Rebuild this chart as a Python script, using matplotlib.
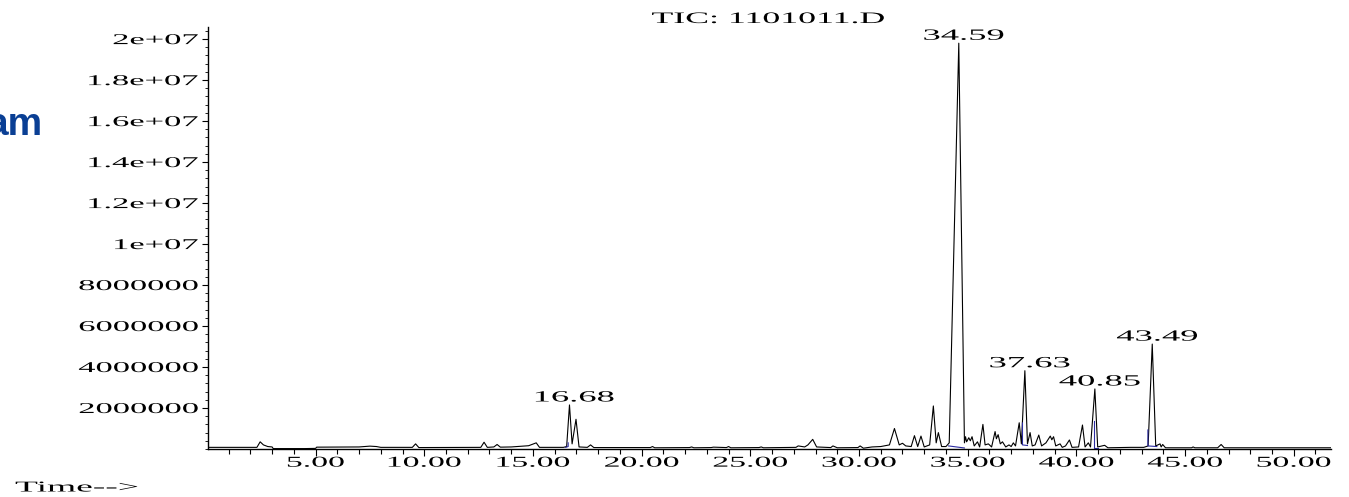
import numpy as np
import matplotlib
matplotlib.use('Agg')
import matplotlib.pyplot as plt
from matplotlib.patheffects import AbstractPathEffect
from matplotlib.transforms import Affine2D

plt.rcParams['font.family'] = ['Liberation Serif', 'DejaVu Serif']

# ---- data (time in min, abundance in millions) ----
trace = [
    (0.05, 0.08), (1.0, 0.08), (2.3, 0.08), (2.45, 0.35), (2.6, 0.2), (2.8, 0.12),
    (3.0, 0.1), (3.05, 0.02), (4.5, 0.02), (5.0, 0.03), (5.05, 0.09), (7.0, 0.1),
    (7.5, 0.14), (7.8, 0.12), (8.0, 0.08), (9.45, 0.08), (9.6, 0.25), (9.75, 0.07),
    (12.6, 0.08), (12.75, 0.33), (12.9, 0.08), (13.2, 0.1), (13.35, 0.22), (13.5, 0.09),
    (14.0, 0.1), (14.8, 0.16), (15.15, 0.3), (15.3, 0.08), (16.4, 0.08), (16.55, 0.12),
    (16.68, 2.15), (16.8, 0.25), (16.98, 1.45), (17.12, 0.1), (17.5, 0.08), (17.65, 0.2),
    (17.8, 0.07), (18.5, 0.07), (20.4, 0.07), (20.5, 0.12), (20.6, 0.06), (22.2, 0.07),
    (22.3, 0.1), (22.4, 0.06), (23.2, 0.07), (23.3, 0.09), (23.9, 0.07), (24.0, 0.12),
    (24.1, 0.06), (25.4, 0.07), (25.5, 0.1), (25.6, 0.06), (27.1, 0.08), (27.2, 0.15),
    (27.5, 0.1), (27.65, 0.2), (27.87, 0.47), (28.05, 0.1), (28.7, 0.07), (28.8, 0.15),
    (29.0, 0.06), (29.95, 0.07), (30.05, 0.15), (30.2, 0.04), (30.6, 0.1), (31.0, 0.12),
    (31.4, 0.2), (31.63, 1.0), (31.85, 0.2), (32.0, 0.28), (32.15, 0.15), (32.4, 0.12),
    (32.55, 0.65), (32.7, 0.12), (32.85, 0.63), (33.0, 0.1), (33.25, 0.2), (33.42, 2.1),
    (33.55, 0.3), (33.65, 0.8), (33.8, 0.12), (34.0, 0.12), (34.15, 0.3), (34.59, 19.8),
    (34.85, 0.3), (34.9, 0.6), (34.95, 0.35), (35.05, 0.55), (35.12, 0.4), (35.2, 0.6),
    (35.3, 0.15), (35.45, 0.35), (35.55, 0.1), (35.7, 1.2), (35.8, 0.2), (35.95, 0.25),
    (36.1, 0.1), (36.26, 0.85), (36.32, 0.5), (36.4, 0.7), (36.5, 0.25), (36.6, 0.35),
    (36.75, 0.1), (36.9, 0.2), (37.0, 0.12), (37.1, 0.3), (37.2, 0.15), (37.37, 1.28),
    (37.47, 0.25), (37.63, 3.82), (37.75, 0.25), (37.87, 0.8), (37.97, 0.15), (38.1, 0.2),
    (38.27, 0.68), (38.4, 0.15), (38.6, 0.3), (38.8, 0.63), (38.87, 0.45), (38.95, 0.6),
    (39.05, 0.15), (39.25, 0.25), (39.35, 0.08), (39.5, 0.15), (39.68, 0.44), (39.8, 0.08),
    (40.1, 0.1), (40.28, 1.17), (40.4, 0.1), (40.55, 0.3), (40.65, 0.1), (40.85, 2.93),
    (40.98, 0.1), (41.3, 0.18), (41.45, 0.06), (42.5, 0.08), (43.1, 0.08), (43.3, 0.15),
    (43.49, 5.12), (43.65, 0.15), (43.85, 0.25), (43.9, 0.1), (43.97, 0.22), (44.1, 0.06),
    (45.3, 0.06), (45.37, 0.1), (45.45, 0.06), (46.5, 0.06), (46.66, 0.22), (46.8, 0.06),
    (51.7, 0.06),
]
# integration baselines drawn in blue
baselines = [
    [(16.5, 0.08), (16.62, 0.12), (16.62, 0.3)],
    [(34.12, 0.15), (34.85, 0.05)],
    [(37.52, 1.27), (37.52, 0.2), (37.75, 0.17)],
    [(40.79, 1.37), (40.79, 0.06), (41.0, 0.06)],
    [(43.29, 0.93), (43.29, 0.15), (43.7, 0.12)],
]
peak_labels = [16.68, 34.59, 37.63, 40.85, 43.49]

xticks = [5, 10, 15, 20, 25, 30, 35, 40, 45, 50]
xlabels = ['5.00', '10.00', '15.00', '20.00', '25.00', '30.00', '35.00', '40.00', '45.00', '50.00']
yticks = [2e6, 4e6, 6e6, 8e6, 1e7, 1.2e7, 1.4e7, 1.6e7, 1.8e7, 2e7]
ylabels = ['2000000', '4000000', '6000000', '8000000', '1e+07', '1.2e+07',
           '1.4e+07', '1.6e+07', '1.8e+07', '2e+07']


class Stretch(AbstractPathEffect):
    """widen glyphs horizontally, like the squashed screenshot"""
    def __init__(self, sx=2.25, anchor='center'):
        super().__init__()
        self.sx = sx
        self.anchor = anchor

    def draw_path(self, renderer, gc, tpath, affine, rgbFace=None):
        ext = tpath.get_extents()
        if self.anchor == 'left':
            px = 0
        elif self.anchor == 'right':
            px = ext.x1
        else:
            px = (ext.x0 + ext.x1) / 2
        tr = Affine2D().translate(-px, 0).scale(self.sx, 1).translate(px, 0) + affine
        renderer.draw_path(gc, tpath, tr, rgbFace)


t = np.array([p[0] for p in trace])
y = np.array([p[1] for p in trace]) * 1e6

fig = plt.figure(figsize=(13.49, 4.97), dpi=100)
ax = fig.add_axes([208 / 1349, 48 / 497, (1330.7 - 208) / 1349, 422 / 497])

ax.plot(t, y, color='black', lw=0.8)
for seg in baselines:
    ax.plot([p[0] for p in seg], [p[1] * 1e6 for p in seg], color='#2b2ba0', lw=0.8)

for lt in peak_labels:
    m = np.abs(t - lt) < 0.1
    top = y[m].max()
    ax.annotate('%.2f' % lt, (lt, top), xytext=(3.5, 2.5), textcoords='offset points',
                ha='center', va='baseline', fontsize=11.2,
                path_effects=[Stretch(2.35, 'center')])

ax.set_xlim(0.05, 51.7)
ax.set_ylim(0, 2.059e7)
ax.spines['top'].set_visible(False)
ax.spines['right'].set_visible(False)
ax.spines['left'].set_linewidth(1.0)
ax.spines['bottom'].set_linewidth(1.0)

ax.set_xticks(xticks, xlabels)
ax.set_xticks(np.arange(1, 52), minor=True)
ax.set_yticks(yticks, ylabels)
ax.set_yticks(np.arange(0, 2.06e7, 4e5), minor=True)
ax.tick_params(axis='x', which='major', length=5, width=0.8, pad=0.5, labelsize=10.8)
ax.tick_params(axis='x', which='minor', length=3.3, width=0.8)
ax.tick_params(axis='y', which='major', length=4.5, width=0.8, pad=2.5, labelsize=10.8)
ax.tick_params(axis='y', which='minor', length=2, width=0.6)
for lab in ax.get_xticklabels():
    lab.set_path_effects([Stretch(2.25, 'center')])
for lab in ax.get_yticklabels():
    lab.set_path_effects([Stretch(2.3, 'right')])

fig.text(768 / 1349, 1 - 19 / 497, 'TIC: 1101011.D', ha='center', va='center',
         fontsize=11.5, path_effects=[Stretch(2.24, 'center')])
fig.text(15 / 1349, 1 - 488 / 497, 'Time-->', ha='left', va='center',
         fontsize=10.8, path_effects=[Stretch(2.5, 'left')])
# slide title fragment cut off at the left edge, as in the screenshot
fig.text(43 / 1349, 1 - 125 / 497, 'am', ha='right', va='center', fontsize=28,
         fontweight='bold', family='Liberation Sans', color='#0a3f94')

fig.savefig('out.png', dpi=100)
